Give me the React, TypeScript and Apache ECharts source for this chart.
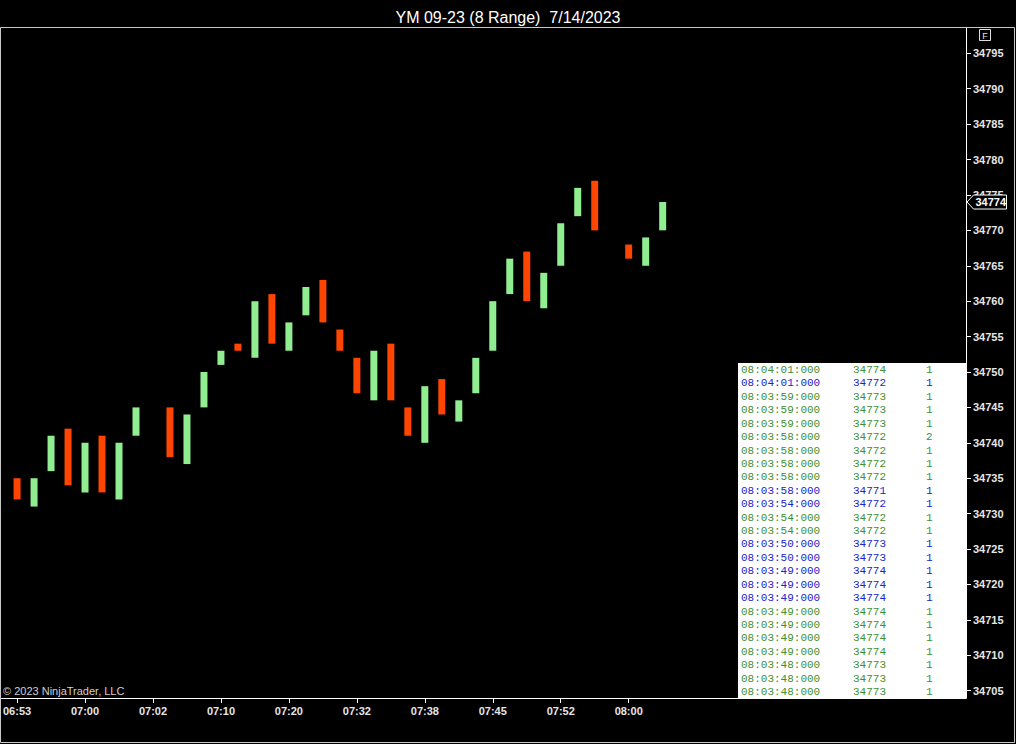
import React, { useEffect, useRef } from "react";
import * as echarts from "echarts";

// ---- data ----
const chartTitle = "YM 09-23 (8 Range)  7/14/2023";
const copyright = "\u00A9 2023 NinjaTrader, LLC";

// one entry per bar slot (null = empty slot)
const barOpens: (number | null)[] = [
  34735, 34731, 34736, 34742, 34733, 34741, 34732, 34741, null, 34745,
  34737, 34745, 34751, 34754, 34752, 34761, 34753, 34758, 34763, 34756,
  34752, 34746, 34754, 34745, 34740, 34749, 34743, 34747, 34753, 34761,
  34767, 34759, 34765, 34772, 34777, null, 34768, 34765, 34770,
];
const barCloses: (number | null)[] = [
  34732, 34735, 34741, 34734, 34740, 34733, 34740, 34745, null, 34738,
  34744, 34750, 34753, 34753, 34760, 34754, 34757, 34762, 34757, 34753,
  34747, 34753, 34746, 34741, 34748, 34744, 34746, 34752, 34760, 34766,
  34760, 34764, 34771, 34776, 34770, null, 34766, 34769, 34774,
];

const timeLabels = ["06:53", "07:00", "07:02", "07:10", "07:20", "07:32", "07:38", "07:45", "07:52", "08:00"];
const barsPerTimeLabel = 4;

const priceTicks = [
  34705, 34710, 34715, 34720, 34725, 34730, 34735, 34740, 34745, 34750,
  34755, 34760, 34765, 34770, 34775, 34780, 34785, 34790, 34795,
];
const lastPrice = 34774;

// time & sales
const tsTimes = [
  "08:04:01:000", "08:04:01:000", "08:03:59:000", "08:03:59:000", "08:03:59:000",
  "08:03:58:000", "08:03:58:000", "08:03:58:000", "08:03:58:000", "08:03:58:000",
  "08:03:54:000", "08:03:54:000", "08:03:54:000", "08:03:50:000", "08:03:50:000",
  "08:03:49:000", "08:03:49:000", "08:03:49:000", "08:03:49:000", "08:03:49:000",
  "08:03:49:000", "08:03:49:000", "08:03:48:000", "08:03:48:000", "08:03:48:000",
];
const tsPrices = [
  34774, 34772, 34773, 34773, 34773,
  34772, 34772, 34772, 34772, 34771,
  34772, 34772, 34772, 34773, 34773,
  34774, 34774, 34774, 34774, 34774,
  34774, 34774, 34773, 34773, 34773,
];
const tsSizes = [
  1, 1, 1, 1, 1,
  2, 1, 1, 1, 1,
  1, 1, 1, 1, 1,
  1, 1, 1, 1, 1,
  1, 1, 1, 1, 1,
];
const tsSides = [
  "ask", "bid", "ask", "ask", "ask",
  "ask", "ask", "ask", "ask", "bid",
  "bid", "ask", "ask", "bid", "bid",
  "bid", "bid", "bid", "ask", "ask",
  "ask", "ask", "ask", "ask", "ask",
];

// ---- styles ----
const UP = "#90EE90";
const DOWN = "#FF4500";
const ASK_COLOR = "#3f8f30";
const BID_COLOR = "#2222cc";
const AXIS_TEXT = "#e6e6e6";
const SANS = '"Liberation Sans", Arial, sans-serif';
const MONO = '"Liberation Mono", "Courier New", monospace';

function buildOption() {
  const barData: number[][] = [];
  barOpens.forEach((o, i) => {
    const c = barCloses[i];
    if (o != null && c != null) barData.push([i, o, c]);
  });
  const xTicks = timeLabels.map((_, k) => k * barsPerTimeLabel);

  return {
    animation: false,
    backgroundColor: "#000",
    title: {
      text: chartTitle,
      left: "center",
      top: 4,
      textStyle: { color: "#ffffff", fontSize: 16, fontWeight: "normal", fontFamily: SANS },
    },
    grid: { left: 1, right: 50, top: 28, bottom: 46 },
    xAxis: {
      type: "value",
      min: -0.9118,
      max: 55.853,
      splitLine: { show: false },
      axisLine: { show: true, onZero: false, lineStyle: { color: "#ffffff", width: 1 } },
      axisTick: { show: true, length: 5, lineStyle: { color: "#ffffff" }, customValues: xTicks },
      axisLabel: {
        customValues: xTicks,
        color: AXIS_TEXT,
        fontSize: 11,
        fontWeight: "bold",
        fontFamily: SANS,
        margin: 7,
        formatter: (v: number) => timeLabels[Math.round(v / barsPerTimeLabel)] ?? "",
      },
    },
    yAxis: {
      type: "value",
      position: "right",
      min: 34703.97,
      max: 34798.57,
      splitLine: { show: false },
      axisLine: { show: true, onZero: false, lineStyle: { color: "#ffffff", width: 1 } },
      axisTick: { show: true, length: 5, lineStyle: { color: "#ffffff" }, customValues: priceTicks },
      axisLabel: {
        customValues: priceTicks,
        color: AXIS_TEXT,
        fontSize: 11,
        fontWeight: "bold",
        fontFamily: SANS,
        margin: 7,
        formatter: (v: number) => String(Math.round(v)),
      },
    },
    series: [
      {
        type: "custom",
        data: barData,
        encode: { x: 0, y: [1, 2] },
        renderItem: (params: any, api: any) => {
          const x = api.value(0);
          const o = api.value(1);
          const c = api.value(2);
          const top = api.coord([x, Math.max(o, c)]);
          const bot = api.coord([x, Math.min(o, c)]);
          const w = (api.size([1, 0])[0] * 7) / 17;
          return {
            type: "rect",
            shape: { x: top[0] - w / 2, y: top[1], width: w, height: bot[1] - top[1] },
            style: { fill: c >= o ? UP : DOWN },
          };
        },
      },
    ],
  };
}

function buildGraphics(yLast: number) {
  const g: any[] = [];
  // outer frame
  g.push({
    type: "rect",
    silent: true,
    shape: { x: 0.5, y: 27.5, width: 1014, height: 715 },
    style: { fill: "none", stroke: "#c8c8c8", lineWidth: 1 },
  });
  // F box
  g.push({
    type: "rect",
    shape: { x: 979.5, y: 29.5, width: 11, height: 11 },
    style: { fill: "#000", stroke: "#e0e0e0", lineWidth: 1 },
  });
  g.push({
    type: "text",
    x: 985,
    y: 35.5,
    style: { text: "F", fill: "#e0e0e0", font: `9px ${SANS}`, align: "center", verticalAlign: "middle" },
  });
  // copyright
  g.push({
    type: "text",
    x: 3,
    y: 691,
    style: { text: copyright, fill: "#d0d0d0", font: `11px ${SANS}`, align: "left", verticalAlign: "middle" },
  });
  // time & sales table
  g.push({
    type: "rect",
    shape: { x: 738, y: 363, width: 228, height: 335 },
    style: { fill: "#ffffff" },
    z: 10,
  });
  tsTimes.forEach((t, i) => {
    const y = 370 + i * 13.42;
    const fill = tsSides[i] === "bid" ? BID_COLOR : ASK_COLOR;
    const font = `11px ${MONO}`;
    g.push({ type: "text", x: 741, y, z: 11, style: { text: t, fill, font, align: "left", verticalAlign: "middle" } });
    g.push({ type: "text", x: 853, y, z: 11, style: { text: String(tsPrices[i]), fill, font, align: "left", verticalAlign: "middle" } });
    g.push({ type: "text", x: 926, y, z: 11, style: { text: String(tsSizes[i]), fill, font, align: "left", verticalAlign: "middle" } });
  });
  // last price marker
  const h = 7;
  g.push({
    type: "polygon",
    z: 100,
    shape: {
      points: [
        [967, yLast],
        [973.5, yLast - h],
        [1006.5, yLast - h],
        [1006.5, yLast + h],
        [973.5, yLast + h],
      ],
    },
    style: { fill: "#000", stroke: "#ffffff", lineWidth: 1 },
  });
  g.push({
    type: "text",
    z: 101,
    x: 975.5,
    y: yLast,
    style: { text: String(lastPrice), fill: "#ffffff", font: `bold 11px ${SANS}`, align: "left", verticalAlign: "middle" },
  });
  return g;
}

export default function App() {
  const ref = useRef<HTMLDivElement>(null);
  useEffect(() => {
    document.body.style.margin = "0";
    document.body.style.background = "#000";
    const chart = echarts.init(ref.current!, null, { renderer: "svg" });
    chart.setOption(buildOption() as any);
    const yLast = chart.convertToPixel({ yAxisIndex: 0 }, lastPrice) as number;
    chart.setOption({ graphic: buildGraphics(yLast) } as any);
    return () => chart.dispose();
  }, []);
  return <div ref={ref} style={{ width: 1016, height: 744, background: "#000" }} />;
}
